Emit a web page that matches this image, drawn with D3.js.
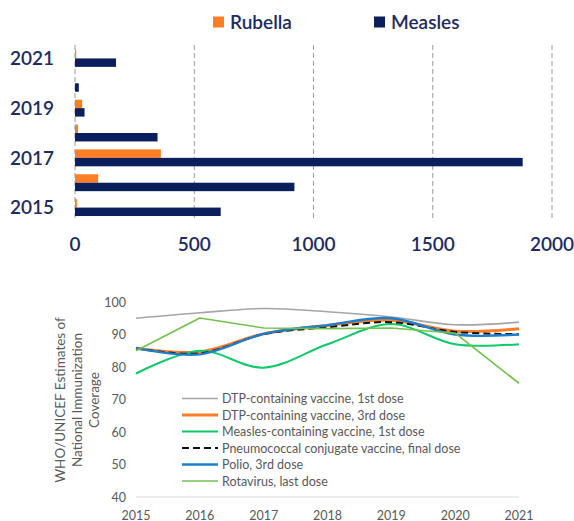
<!DOCTYPE html>
<html>
<head>
<meta charset="utf-8">
<script src="https://cdn.jsdelivr.net/npm/d3@7"></script>
<style>
  html, body { margin: 0; padding: 0; background: #fff; }
  svg { display: block; }
</style>
</head>
<body>
<svg id="chart" width="574" height="521"></svg>
<script>
// ---------- Top chart data ----------
const barYears = [2015, 2016, 2017, 2018, 2019, 2020, 2021];
const barYearLabels = ["2015", "", "2017", "", "2019", "", "2021"];
const rubellaCases = [8, 97, 360, 13, 30, 0, 5];
const measlesCases = [611, 920, 1877, 346, 40, 16, 172];
const barTicks = [0, 500, 1000, 1500, 2000];
const barSeriesNames = ["Rubella", "Measles"];

// ---------- Bottom chart data ----------
const lineYears = [2015, 2016, 2017, 2018, 2019, 2020, 2021];
const lineTicks = [40, 50, 60, 70, 80, 90, 100];
const dtp1 = [95, 96.7, 98, 97, 95.4, 93, 93.8];
const dtp3 = [85.8, 84.6, 90.2, 92.8, 94.4, 91, 91.8];
const measles1 = [78, 85, 79.8, 87, 93.2, 87, 87];
const pcvFinal = [85.8, 84.2, 90.1, 92.2, 93.8, 90.8, 90.1];
const polio3 = [85.8, 83.9, 90.2, 92.9, 95, 90, 90];
const rotaLast = [85, 95.1, 92, 91.8, 92, 90.4, 75];
const lineSeriesNames = [
  "DTP-containing vaccine, 1st dose",
  "DTP-containing vaccine, 3rd dose",
  "Measles-containing vaccine, 1st dose",
  "Pneumococcal conjugate vaccine, final dose",
  "Polio, 3rd dose",
  "Rotavirus, last dose"
];
const yTitleLines = ["WHO/UNICEF Estimates of", "National Immunization", "Coverage"];

const svg = d3.select("#chart");
svg.append("rect").attr("width", 574).attr("height", 521).attr("fill", "#fff");

const NAVY = "#0b1f5c";
const ORANGE = "#fd7f25";
const TXT_NAVY = "#1c2c5e";
const FONT = "Lato, 'Open Sans', sans-serif";
const TOP_WEIGHT = 600;

// ================= TOP: horizontal grouped bars =================
const xB = d3.scaleLinear().domain([0, 2000]).range([75, 552]);
const yB = d3.scaleBand().domain(barYears.slice().reverse()).range([46, 220])
  .paddingInner(0.32).paddingOuter(0.16);
const ySub = d3.scaleBand().domain(barSeriesNames).range([0, yB.bandwidth()]);

const gTop = svg.append("g");
gTop.selectAll("line.grid").data(barTicks).join("line")
  .attr("class", "grid")
  .attr("x1", d => xB(d)).attr("x2", d => xB(d))
  .attr("y1", 45).attr("y2", 220)
  .attr("stroke", "#9a9a9a").attr("stroke-width", 1)
  .attr("stroke-dasharray", "5,3");

gTop.selectAll("text.xt").data(barTicks).join("text")
  .attr("class", "xt")
  .attr("x", d => xB(d)).attr("y", 251)
  .attr("text-anchor", "middle")
  .attr("font-family", FONT).attr("font-size", 19).attr("font-weight", TOP_WEIGHT)
  .attr("fill", TXT_NAVY)
  .text(d => d);

gTop.selectAll("text.yt").data(barYears).join("text")
  .attr("class", "yt")
  .attr("x", 54)
  .attr("y", d => yB(d) + yB.bandwidth() / 2)
  .attr("dy", "0.36em")
  .attr("text-anchor", "end")
  .attr("font-family", FONT).attr("font-size", 19).attr("font-weight", TOP_WEIGHT)
  .attr("fill", TXT_NAVY)
  .text((d, i) => barYearLabels[i]);

const barData = barYears.map((yr, i) => ({ year: yr, Rubella: rubellaCases[i], Measles: measlesCases[i] }));
const colorsB = { Rubella: ORANGE, Measles: NAVY };
const groups = gTop.selectAll("g.bg").data(barData).join("g")
  .attr("class", "bg")
  .attr("transform", d => `translate(0,${yB(d.year)})`);
groups.selectAll("rect").data(d => barSeriesNames.map(k => ({ key: k, value: d[k] }))).join("rect")
  .attr("x", xB(0))
  .attr("y", d => ySub(d.key))
  .attr("width", d => Math.max(0, xB(d.value) - xB(0)))
  .attr("height", ySub.bandwidth())
  .attr("fill", d => colorsB[d.key]);

const legB = gTop.append("g");
const legBPos = [{ sx: 213, tx: 230 }, { sx: 374, tx: 391 }];
barSeriesNames.forEach((name, i) => {
  legB.append("rect").attr("x", legBPos[i].sx).attr("y", 16.5)
    .attr("width", 11).attr("height", 11).attr("fill", colorsB[name]);
  legB.append("text").attr("x", legBPos[i].tx).attr("y", 22)
    .attr("dy", "0.36em")
    .attr("font-family", FONT).attr("font-size", 19).attr("font-weight", TOP_WEIGHT)
    .attr("fill", TXT_NAVY).text(name);
});

// ================= BOTTOM: line chart =================
const xL = d3.scalePoint().domain(lineYears).range([136, 519]);
const yL = d3.scaleLinear().domain([40, 100]).range([497, 302]);
const GRAY_TXT = "#595959";
const gBottom = svg.append("g");

gBottom.append("line")
  .attr("x1", xL(2015)).attr("x2", xL(2021))
  .attr("y1", yL(40)).attr("y2", yL(40))
  .attr("stroke", "#d9d9d9").attr("stroke-width", 1);

gBottom.selectAll("text.ly").data(lineTicks).join("text")
  .attr("class", "ly")
  .attr("x", 126).attr("y", d => yL(d)).attr("dy", "0.36em")
  .attr("text-anchor", "end")
  .attr("font-family", FONT).attr("font-size", 12.5)
  .attr("fill", GRAY_TXT).text(d => d);

gBottom.selectAll("text.lx").data(lineYears).join("text")
  .attr("class", "lx")
  .attr("x", d => xL(d)).attr("y", 515).attr("dy", "0.36em")
  .attr("text-anchor", "middle")
  .attr("font-family", FONT).attr("font-size", 12.5)
  .attr("fill", GRAY_TXT).text(d => d);

const yTitleX = [60, 77, 94];
yTitleLines.forEach((t, i) => {
  gBottom.append("text")
    .attr("transform", `translate(${yTitleX[i]},400) rotate(-90)`)
    .attr("dy", "0.36em")
    .attr("text-anchor", "middle")
    .attr("font-family", FONT).attr("font-size", 13.5)
    .attr("fill", GRAY_TXT).text(t);
});

const smooth = d3.curveCardinal.tension(0);
const series = [
  { name: lineSeriesNames[0], values: dtp1, color: "#a5a5a5", width: 1.6, dash: null, curve: smooth },
  { name: lineSeriesNames[1], values: dtp3, color: "#fb7d2a", width: 3, dash: null, curve: smooth },
  { name: lineSeriesNames[2], values: measles1, color: "#0fc96a", width: 2, dash: null, curve: smooth },
  { name: lineSeriesNames[3], values: pcvFinal, color: "#111111", width: 2, dash: "7,4", curve: smooth },
  { name: lineSeriesNames[4], values: polio3, color: "#1b7fcb", width: 2.4, dash: null, curve: smooth },
  { name: lineSeriesNames[5], values: rotaLast, color: "#72c14e", width: 1.6, dash: null, curve: d3.curveLinear }
];

series.forEach(s => {
  const line = d3.line().x((d, i) => xL(lineYears[i])).y(d => yL(d)).curve(s.curve);
  gBottom.append("path")
    .attr("d", line(s.values))
    .attr("fill", "none")
    .attr("stroke", s.color)
    .attr("stroke-width", s.width)
    .attr("stroke-dasharray", s.dash)
    .attr("stroke-linejoin", "round");
});

const legY0 = 398.5, legStep = 16.5;
series.forEach((s, i) => {
  const y = legY0 + i * legStep;
  gBottom.append("line")
    .attr("x1", 182).attr("x2", 218).attr("y1", y).attr("y2", y)
    .attr("stroke", s.color).attr("stroke-width", s.width)
    .attr("stroke-dasharray", s.dash);
  gBottom.append("text")
    .attr("x", 222).attr("y", y).attr("dy", "0.36em")
    .attr("font-family", FONT).attr("font-size", 12.5)
    .attr("fill", GRAY_TXT).text(s.name);
});
</script>
</body>
</html>
